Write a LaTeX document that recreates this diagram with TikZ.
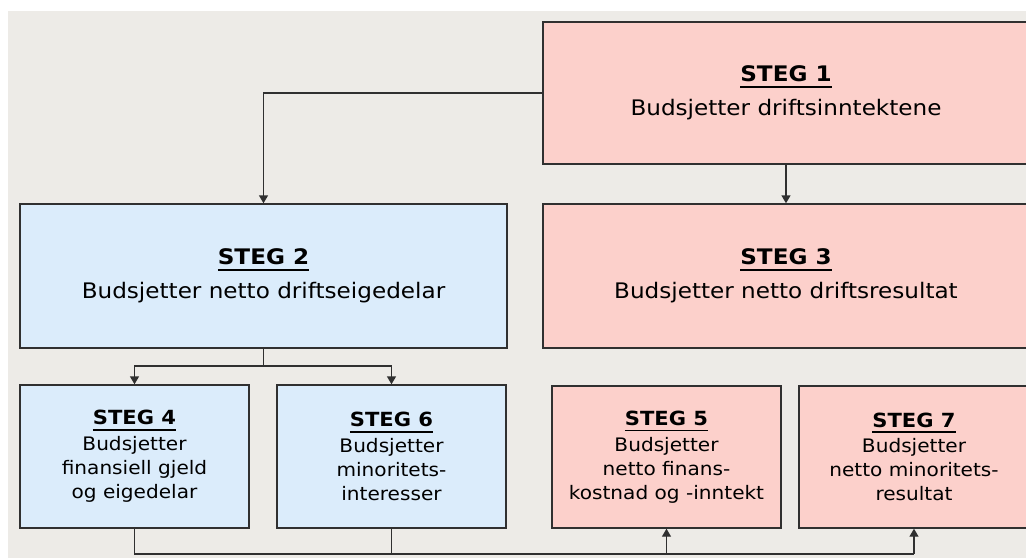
\documentclass[tikz,border=0pt]{standalone}
\usepackage{fontspec}
\setmainfont{DejaVu Sans}[FakeStretch=1.08]
\usetikzlibrary{arrows.meta}
\definecolor{bgc}{HTML}{EDEBE7}
\definecolor{pinkc}{HTML}{FCD0CB}
\definecolor{bluec}{HTML}{DBECFB}
\definecolor{linec}{HTML}{303030}
\newsavebox\tbox
\newcommand\stegtitle[1]{\sbox\tbox{\bfseries #1}\usebox\tbox\llap{\rule[-6pt]{\wd\tbox}{1.8pt}}}
\newcommand\smalltitle[1]{{\fontsize{19.5}{24}\selectfont\stegtitle{#1}}}
\tikzset{
  box/.style={draw=linec, line width=1.4pt, rectangle, inner sep=0pt, align=center},
  bigtext/.style={font=\fontsize{21.4}{24}\selectfont},
  smalltext/.style={font=\fontsize{18.6}{24}\selectfont},
  pinkbox/.style={box, fill=pinkc},
  bluebox/.style={box, fill=bluec},
  conn/.style={draw=linec, line width=1.4pt},
  arr/.style={conn, -{Triangle[length=8pt,width=9pt]}}
}
\begin{document}
\begin{tikzpicture}[x=1pt,y=-1pt]
\useasboundingbox (0,0) rectangle (1026,558);
\fill[white] (0,0) rectangle (1026,558);
\fill[bgc] (8,11) rectangle (1026,558);
\clip (0,0) rectangle (1026,558);

\node[pinkbox, bigtext, minimum width=486pt, minimum height=142pt] (s1) at (786,93)
  {\stegtitle{STEG 1}\\[10pt]Budsjetter driftsinntektene};
\node[bluebox, bigtext, minimum width=487pt, minimum height=144pt] (s2) at (263.5,276)
  {\stegtitle{STEG 2}\\[10pt]Budsjetter netto driftseigedelar};
\node[pinkbox, bigtext, minimum width=486pt, minimum height=144pt] (s3) at (786,276)
  {\stegtitle{STEG 3}\\[10pt]Budsjetter netto driftsresultat};
\node[bluebox, smalltext, minimum width=229pt, minimum height=143pt] (s4) at (134.5,456.5)
  {\smalltitle{STEG 4}\\[1.7pt]Budsjetter\\finansiell gjeld\\og eigedelar};
\node[bluebox, smalltext, minimum width=229pt, minimum height=143pt] (s6) at (391.5,456.5)
  {\smalltitle{STEG 6}\\[1.7pt]Budsjetter\\minoritets-\\interesser};
\node[pinkbox, smalltext, minimum width=229pt, minimum height=142pt] (s5) at (666.5,457)
  {\smalltitle{STEG 5}\\[1.7pt]Budsjetter\\netto finans-\\kostnad og -inntekt};
\node[pinkbox, smalltext, minimum width=230pt, minimum height=142pt] (s7) at (914,457)
  {\smalltitle{STEG 7}\\[1.7pt]Budsjetter\\netto minoritets-\\resultat};

\draw[arr] (s1.west) -| (s2.north);
\draw[arr] (s1.south) -- (s3.north);

\coordinate (j) at (263.5,366);
\draw[conn] (s2.south) -- (j);
\draw[arr] (j) -| (s4.north);
\draw[arr] (j) -| (s6.north);

\coordinate (bus) at (0,554);
\draw[conn] (s4.south) -- (s4.south |- bus) -- (s7.south |- bus);
\draw[conn] (s6.south) -- (s6.south |- bus);
\draw[arr] (s5.south |- bus) -- (s5.south);
\draw[arr] (s7.south |- bus) -- (s7.south);
\end{tikzpicture}
\end{document}
